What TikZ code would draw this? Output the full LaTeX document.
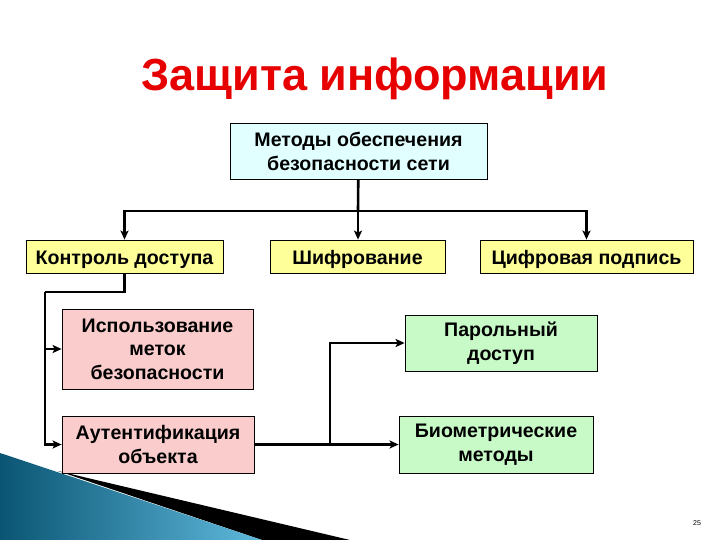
\documentclass[tikz,border=0pt]{standalone}
\usepackage{fontspec}
\setmainfont{Liberation Sans}
\usetikzlibrary{positioning,arrows.meta}
\definecolor{metc}{RGB}{226,255,255}
\definecolor{zhel}{RGB}{255,255,153}
\definecolor{rozc}{RGB}{250,204,204}
\definecolor{zelc}{RGB}{200,250,200}
\definecolor{titc}{RGB}{230,0,0}
\newcommand{\blok}[5][zhel]{\node[blokst,fill=#1,minimum width=#4](#2)[#3]{#5};}

\begin{document}
\begin{tikzpicture}[x=1pt,y=-1pt,>={Stealth[length=9pt,width=8pt,inset=2pt]},line width=2.6pt,
  blokst/.style={rectangle,draw,line width=0.8pt,align=center,inner sep=1pt,
    font=\fontsize{19.6}{23.5}\selectfont\bfseries},
  odna/.style={minimum height=33pt,text height=18pt,text depth=2pt}]
\useasboundingbox (0,0) rectangle (720,540);

% slide decoration
\fill[black] (58,471) -- (350,540) -- (262,540) -- cycle;
\shade[left color={rgb,255:red,10;green,85;blue,115},right color={rgb,255:red,95;green,185;blue,220}]
  (0,453) -- (262,540) -- (0,540) -- cycle;

\node(titul)[text=titc,font=\fontsize{45}{45}\selectfont\bfseries] at (375,79) {Защита информации};

\blok[metc]{metod}{minimum height=56pt,at={(358.5,151.5)}}{257pt}{Методы обеспечения\\безопасности сети};
\blok{kontrol}{odna,at={(124.5,256.5)}}{197pt}{Контроль доступа};
\blok{shifr}{odna,at={(357.5,256.5)}}{175pt}{Шифрование};
\blok{cifr}{odna,at={(586.5,256.5)}}{213pt}{Цифровая подпись};

\blok[rozc]{metki}{minimum height=80pt,at={(157.5,349)}}{191pt}{Использование\\меток\\безопасности};
\blok[rozc]{auth}{minimum height=57pt,at={(158,444.5)}}{192pt}{Аутентификация\\объекта};
\blok[zelc]{parol}{minimum height=56pt,at={(501,343)}}{192pt}{Парольный\\доступ};
\blok[zelc]{bio}{minimum height=57pt,at={(496,444.5)}}{194pt}{Биометрические\\методы};

\coordinate (hub) at (358,211);
\coordinate (lrail) at (45,292);
\coordinate (rrail) at (330,444.5);

\draw (metod) -- (hub);
\draw[->] (hub) -| (kontrol);
\draw[->] (hub) -- (hub |- shifr.north);
\draw[->] (hub) -| (cifr);

\draw (kontrol) |- (lrail);
\draw[->] (lrail) |- (metki);
\draw[->] (lrail) |- (auth);

\draw[->] (auth) -- (bio);
\draw[->] (rrail) |- (parol);

\node(nomer)[font=\fontsize{7}{7}\selectfont] at (697,523) {25};
\end{tikzpicture}
\end{document}
